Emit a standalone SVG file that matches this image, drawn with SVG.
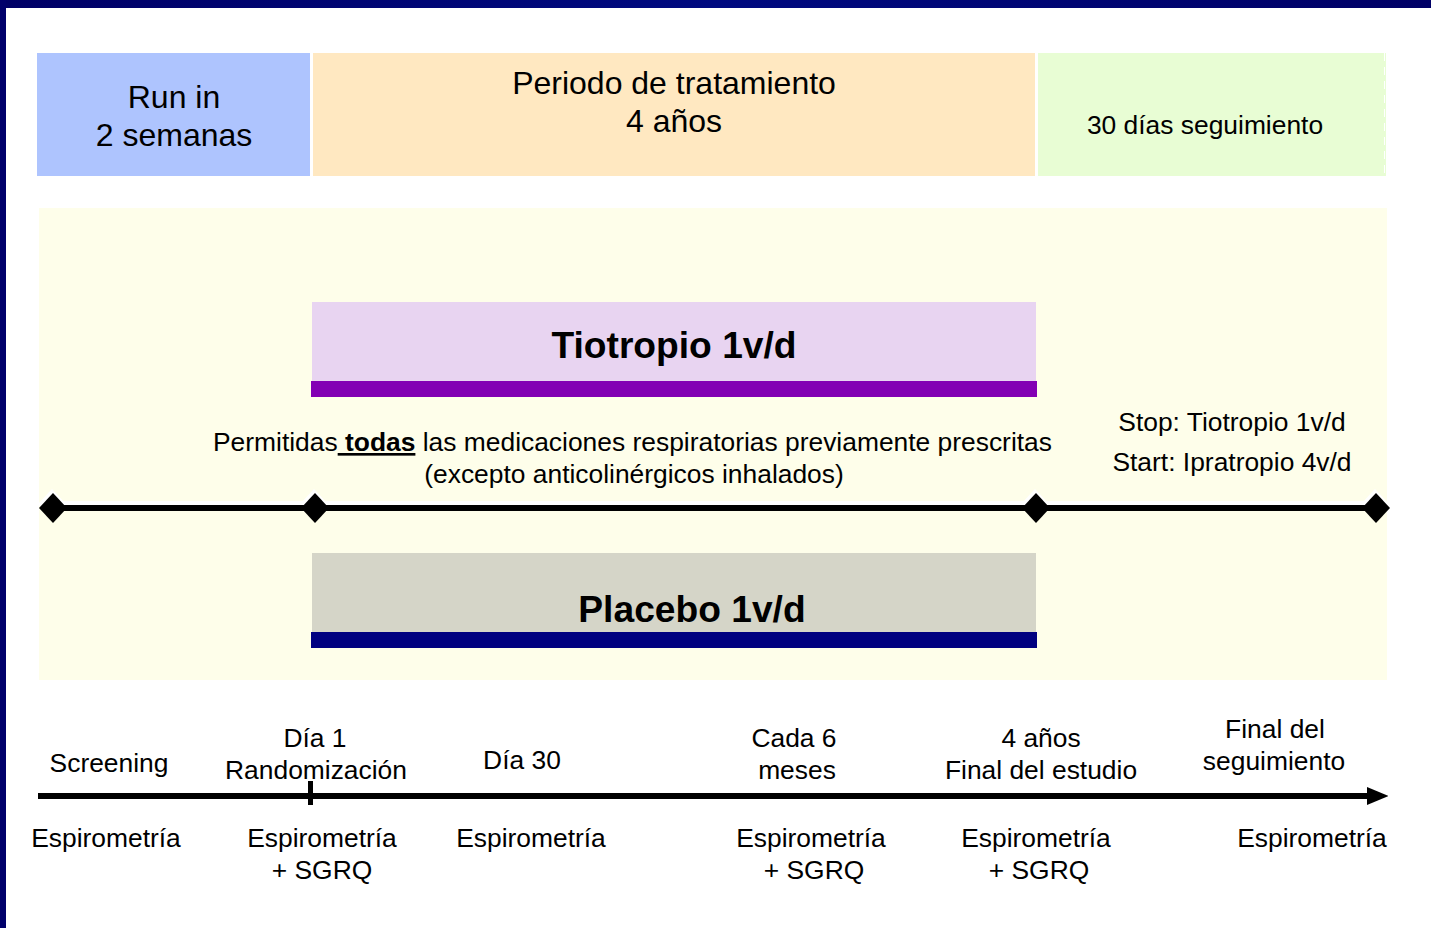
<svg xmlns="http://www.w3.org/2000/svg" width="1431" height="928" viewBox="0 0 1431 928">
<defs>
<style>
text{font-family:"Liberation Sans",Arial,sans-serif;fill:#000;}
.t26{font-size:26.4px;}
.t31{font-size:32px;}
.b36{font-size:37.2px;font-weight:bold;}
.mid{text-anchor:middle;}
</style>
<linearGradient id="topbar" x1="0" y1="0" x2="1" y2="0">
<stop offset="0" stop-color="#000066"/>
<stop offset="0.5" stop-color="#000a80"/>
<stop offset="1" stop-color="#000066"/>
</linearGradient>
<marker id="arrow" markerWidth="3.6" markerHeight="3" refX="0.2" refY="1.5" orient="auto" markerUnits="strokeWidth">
<path d="M0,0 L3.6,1.5 L0,3 Z" fill="#000"/>
</marker>
<path id="dia" d="M0,-15 L14,0 L0,15 L-14,0 Z"/>
</defs>
<rect width="1431" height="928" fill="#fff"/>
<rect x="0" y="0" width="1431" height="8" fill="url(#topbar)"/>
<rect x="0" y="0" width="6" height="928" fill="#00006b"/>

<g id="runin">
<rect x="37" y="53" width="273" height="123" fill="#aec4fe"/>
<text class="t31 mid" x="174" y="108">Run in</text>
<text class="t31 mid" x="174" y="146">2 semanas</text>
</g>
<g id="periodo">
<rect x="313" y="53" width="722" height="123" fill="#ffe8c1"/>
<text class="t31 mid" x="674" y="94">Periodo de tratamiento</text>
<text class="t31 mid" x="674" y="132">4 años</text>
</g>
<g id="seguimiento">
<rect x="1038" y="53" width="348" height="123" fill="#e8fdd4"/>
<line x1="1384.5" y1="53" x2="1384.5" y2="176" stroke="#fff" stroke-width="1" stroke-dasharray="8,6"/>
<text class="t26 mid" x="1205" y="134">30 días seguimiento</text>
</g>

<g id="area">
<rect x="39" y="208" width="1348" height="472" fill="#fefeea"/>
</g>

<g id="tiotropio">
<rect x="312" y="302" width="724" height="79" fill="#e8d4f1"/>
<rect x="311" y="381" width="726" height="16" fill="#8300b4"/>
<text class="b36 mid" x="674" y="358">Tiotropio 1v/d</text>
</g>

<g id="permitidas">
<text class="t26" x="213" y="451">Permitidas<tspan font-weight="bold" text-decoration="underline"> todas</tspan> las medicaciones respiratorias previamente prescritas</text>
<text class="t26 mid" x="634" y="483">(excepto anticolinérgicos inhalados)</text>
</g>

<g id="stopstart">
<text class="t26 mid" x="1232" y="431">Stop: Tiotropio 1v/d</text>
<text class="t26 mid" x="1232" y="471">Start: Ipratropio 4v/d</text>
</g>

<g id="placebo">
<rect x="312" y="553" width="724" height="79" fill="#d5d5c8"/>
<rect x="311" y="632" width="726" height="16" fill="#000080"/>
<text class="b36 mid" x="692" y="622">Placebo 1v/d</text>
</g>

<g id="connectors">
<g fill="#fff" transform="translate(-1,-4)">
<rect x="53" y="505" width="1323" height="6"/>
<use href="#dia" x="53" y="508"/>
<use href="#dia" x="315" y="508"/>
<use href="#dia" x="1036" y="508"/>
<use href="#dia" x="1376" y="508"/>
</g>
<rect x="53" y="505" width="1323" height="6" fill="#000"/>
<g fill="#000">
<use href="#dia" x="53" y="508"/>
<use href="#dia" x="315" y="508"/>
<use href="#dia" x="1036" y="508"/>
<use href="#dia" x="1376" y="508"/>
</g>
<line x1="38" y1="796" x2="1368" y2="796" stroke="#000" stroke-width="6" marker-end="url(#arrow)"/>
<rect x="308" y="781" width="5" height="24" fill="#000"/>
</g>

<g id="ev-screening">
<text class="t26 mid" x="109" y="772">Screening</text>
<text class="t26 mid" x="106" y="847">Espirometría</text>
</g>
<g id="ev-dia1">
<text class="t26 mid" x="315" y="747">Día 1</text>
<text class="t26 mid" x="316" y="779">Randomización</text>
<text class="t26 mid" x="322" y="847">Espirometría</text>
<text class="t26 mid" x="322" y="879">+ SGRQ</text>
</g>
<g id="ev-dia30">
<text class="t26 mid" x="522" y="769">Día 30</text>
<text class="t26 mid" x="531" y="847">Espirometría</text>
</g>
<g id="ev-cada6">
<text class="t26 mid" x="794" y="747">Cada 6</text>
<text class="t26 mid" x="797" y="779">meses</text>
<text class="t26 mid" x="811" y="847">Espirometría</text>
<text class="t26 mid" x="814" y="879">+ SGRQ</text>
</g>
<g id="ev-4anos">
<text class="t26 mid" x="1041" y="747">4 años</text>
<text class="t26 mid" x="1041" y="779">Final del estudio</text>
<text class="t26 mid" x="1036" y="847">Espirometría</text>
<text class="t26 mid" x="1039" y="879">+ SGRQ</text>
</g>
<g id="ev-final">
<text class="t26 mid" x="1275" y="738">Final del</text>
<text class="t26 mid" x="1274" y="770">seguimiento</text>
<text class="t26 mid" x="1312" y="847">Espirometría</text>
</g>
</svg>
